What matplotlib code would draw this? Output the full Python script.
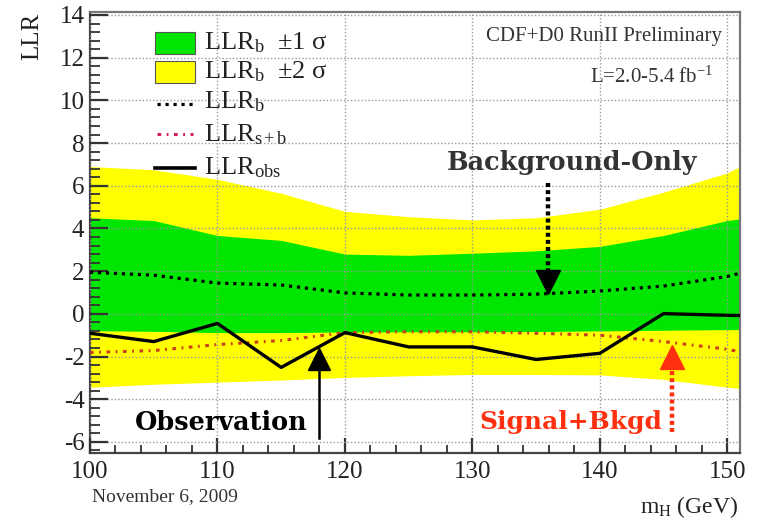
import matplotlib
matplotlib.use("Agg")
import matplotlib.pyplot as plt
from matplotlib.patches import Rectangle
from matplotlib.lines import Line2D
from matplotlib.ticker import MultipleLocator

plt.rcParams['font.family'] = ['Liberation Serif', 'DejaVu Serif']
plt.rcParams['mathtext.fontset'] = 'custom'
plt.rcParams['mathtext.rm'] = 'Liberation Serif'
plt.rcParams['mathtext.it'] = 'Liberation Serif:italic'

# Higgs mass points (GeV) and log-likelihood ratios
mass = [100, 105, 110, 115, 120, 125, 130, 135, 140, 145, 150, 151]
llr_b = [1.95, 1.81, 1.44, 1.35, 0.98, 0.88, 0.88, 0.92, 1.07, 1.30, 1.75, 1.90]
llr_sb = [-1.81, -1.72, -1.44, -1.25, -0.88, -0.84, -0.84, -0.91, -1.00, -1.30, -1.66, -1.78]
llr_obs = [-0.91, -1.30, -0.45, -2.51, -0.88, -1.55, -1.55, -2.14, -1.85, 0.01, -0.07, -0.08]
band1_hi = [4.50, 4.37, 3.67, 3.44, 2.80, 2.74, 2.84, 2.95, 3.16, 3.67, 4.37, 4.45]
band1_lo = [-0.79, -0.82, -0.88, -0.88, -0.85, -0.84, -0.84, -0.83, -0.80, -0.77, -0.74, -0.74]
band2_hi = [6.90, 6.75, 6.30, 5.65, 4.80, 4.55, 4.40, 4.50, 4.90, 5.70, 6.60, 6.90]
band2_lo = [-3.44, -3.30, -3.20, -3.10, -2.98, -2.90, -2.84, -2.84, -2.86, -3.07, -3.44, -3.50]

x_ticks = [100, 110, 120, 130, 140, 150]
y_ticks = [-6, -4, -2, 0, 2, 4, 6, 8, 10, 12, 14]

GREEN = '#00e600'
YELLOW = '#ffff00'
SB_RED = '#c8401c'
ARROW_RED = '#ff3010'
W, H = 757, 521

fig = plt.figure(figsize=(W / 100, H / 100), dpi=100)
ax = fig.add_axes([90 / W, 1 - 453 / H, (740 - 90) / W, (453 - 12) / H])

ax.fill_between(mass, band2_lo, band2_hi, color=YELLOW, lw=0, zorder=1)
ax.fill_between(mass, band1_lo, band1_hi, color=GREEN, lw=0, zorder=2)

ax.set_xlim(100, 151)
ax.set_ylim(-6.52, 14.14)
ax.set_xticks(x_ticks)
ax.set_yticks(y_ticks)
ax.xaxis.set_minor_locator(MultipleLocator(2))
ax.yaxis.set_minor_locator(MultipleLocator(0.4))
ax.grid(True, which='major', color='#9a9a9a', lw=1.0, linestyle=(0, (1, 1.5)), zorder=3)
ax.set_axisbelow(False)

ax.plot(mass, llr_b, color='black', lw=2.3, linestyle=(0, (1, 1.5)), zorder=5)
ax.plot(mass, llr_sb, color=SB_RED, lw=2.2, linestyle=(0, (1.2, 1.8, 0.6, 1.8)), zorder=5)
ax.plot(mass, llr_obs, color='black', lw=2.4, zorder=6)

for s in ax.spines.values():
    s.set_color('#444444')
    s.set_linewidth(1.6)
ax.spines['top'].set_color('#777777')
ax.spines['right'].set_color('#777777')

ax.tick_params(axis='y', which='major', direction='in', length=13, width=1.6, color='#333333',
               labelsize=18, labelcolor='#222222', pad=4)
ax.tick_params(axis='y', which='minor', direction='in', length=7, width=1.3, color='#333333')
ax.tick_params(axis='x', which='major', direction='in', length=11, width=1.6, color='#333333',
               labelsize=18, labelcolor='#222222', pad=6)
ax.tick_params(axis='x', which='minor', direction='in', length=6, width=1.3, color='#333333')
ax.set_yticklabels([str(v) for v in y_ticks])

# axis titles
fig.text(32 / W, 1 - 13 / H, 'LLR', rotation=90, ha='center', va='top', fontsize=18, color='#222222')
fig.text(738 / W, 1 - 507 / H, r'm$_{\mathrm{H}}$ (GeV)', ha='right', va='center', fontsize=17, color='#222222')
fig.text(92 / W, 1 - 497 / H, 'November 6, 2009', ha='left', va='center', fontsize=14, color='#333333')

# header
fig.text(722 / W, 1 - 36 / H, 'CDF+D0 RunII Preliminary', ha='right', va='center', fontsize=15, color='#333333')
fig.text(713 / W, 1 - 77 / H, r'L=2.0-5.4 fb$^{\mathrm{-1}}$', ha='right', va='center', fontsize=15, color='#333333')

# legend
def fx(px):
    return px / W

def fy(py):
    return 1 - py / H

leg_rows = [
    ('box', GREEN, r'LLR$_{\mathrm{b}}$  $\pm$1 σ', 43),
    ('box', YELLOW, r'LLR$_{\mathrm{b}}$  $\pm$2 σ', 72),
    ('b', None, r'LLR$_{\mathrm{b}}$', 102),
    ('sb', None, r'LLR$_{\mathrm{s+b}}$', 135),
    ('obs', None, r'LLR$_{\mathrm{obs}}$', 168),
]
for kind, col, label, py in leg_rows:
    if kind == 'box':
        fig.patches.append(Rectangle((fx(155), fy(py + 11)), 40 / W, 22 / H, transform=fig.transFigure,
                                     facecolor=col, edgecolor='#555555', lw=0.8))
    elif kind == 'b':
        fig.lines.append(Line2D([fx(157), fx(193)], [fy(py + 2)] * 2, transform=fig.transFigure,
                                color='black', lw=2.3, linestyle=(0, (1, 1.5))))
    elif kind == 'sb':
        fig.lines.append(Line2D([fx(157), fx(193)], [fy(py - 1)] * 2, transform=fig.transFigure,
                                color='#d02050', lw=2.2, linestyle=(0, (1.2, 1.8, 0.6, 1.8))))
    else:
        fig.lines.append(Line2D([fx(155), fx(195)], [fy(py)] * 2, transform=fig.transFigure,
                                color='black', lw=2.6))
    fig.text(fx(204), fy(py), label, ha='left', va='center', fontsize=19, color='#222222')

# annotations
slab = ['DejaVu Serif']
ax.text(137.85, 7.1, 'Background-Only', ha='center', va='center', fontsize=18.4, fontweight='bold',
        family=slab, color='#333333', zorder=8)
ax.plot([135.9, 135.9], [6.15, 1.9], color='black', lw=3.2, linestyle=(0, (0.9, 0.7)), zorder=7)
ax.plot([135.9], [1.50], marker='v', markersize=17, color='black', lw=0, zorder=7)

ax.text(110.3, -5.08, 'Observation', ha='center', va='center', fontsize=18.4, fontweight='bold',
        family=slab, color='black', zorder=8)
ax.plot([118.0, 118.0], [-5.81, -2.4], color='black', lw=1.8, zorder=7)
ax.plot([118.0], [-2.1], marker='^', markersize=16, color='black', lw=0, zorder=7)

ax.text(137.7, -5.08, 'Signal+Bkgd', ha='center', va='center', fontsize=18, fontweight='bold',
        family=slab, color=ARROW_RED, zorder=8)
ax.plot([145.7, 145.7], [-5.55, -2.4], color=ARROW_RED, lw=3.2, linestyle=(0, (0.9, 0.7)), zorder=7)
ax.plot([145.7], [-2.02], marker='^', markersize=17, color=ARROW_RED, lw=0, zorder=7)

fig.savefig('out.png', dpi=100)
